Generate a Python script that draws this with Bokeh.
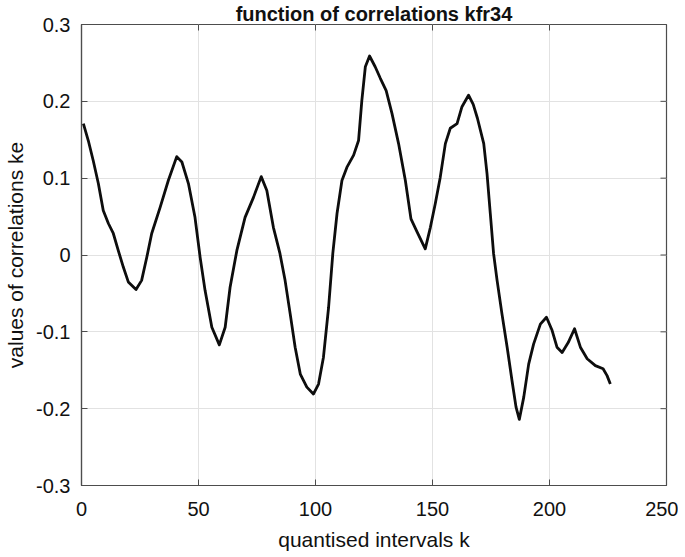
import math
from bokeh.plotting import figure
from bokeh.models import FixedTicker, Range1d
from bokeh.embed import file_html
from bokeh.resources import INLINE

# data
k_vals = [0.8, 2.9, 5.0, 7.2, 9.3, 11.5, 13.6, 15.7, 17.9, 20.0, 23.3, 25.7, 27.9, 30.0, 33.6, 37.1,
          40.7, 42.9, 45.7, 48.5, 50.7, 52.8, 55.7, 58.9, 61.4, 63.5, 66.4, 69.9, 73.5, 76.8, 79.2,
          82.0, 84.8, 87.0, 89.2, 91.3, 93.5, 96.3, 99.1, 101.3, 103.4, 105.6, 107.4, 109.2, 111.3,
          113.4, 116.3, 118.4, 119.8, 121.3, 123.1, 125.5, 127.7, 130.2, 132.7, 135.5, 138.4, 140.8,
          143.4, 146.9, 149.1, 151.2, 153.3, 155.5, 157.6, 160.5, 162.6, 165.4, 167.4, 169.2, 171.9,
          173.3, 174.7, 176.1, 177.6, 179.7, 181.9, 184.0, 185.7, 187.1, 189.0, 191.1, 193.2, 196.1,
          198.7, 201.1, 203.2, 205.4, 208.0, 210.7, 213.2, 216.1, 219.6, 222.9, 224.6, 226.0]
ke_vals = [0.171, 0.149, 0.123, 0.093, 0.058, 0.041, 0.028, 0.006, -0.016, -0.035, -0.045, -0.033,
           -0.003, 0.028, 0.062, 0.097, 0.128, 0.121, 0.093, 0.049, -0.003, -0.046, -0.094, -0.117,
           -0.094, -0.042, 0.006, 0.049, 0.075, 0.102, 0.084, 0.036, 0.002, -0.033, -0.077, -0.120,
           -0.155, -0.172, -0.181, -0.168, -0.133, -0.068, 0.002, 0.054, 0.097, 0.114, 0.130, 0.149,
           0.201, 0.245, 0.259, 0.245, 0.230, 0.214, 0.184, 0.145, 0.097, 0.047, 0.030, 0.008, 0.036,
           0.067, 0.101, 0.145, 0.165, 0.171, 0.193, 0.208, 0.196, 0.178, 0.145, 0.106, 0.054, 0.002,
           -0.033, -0.077, -0.120, -0.164, -0.198, -0.214, -0.185, -0.142, -0.116, -0.090, -0.081,
           -0.098, -0.120, -0.127, -0.114, -0.096, -0.120, -0.135, -0.144, -0.148, -0.157, -0.168]

x_ticks = [0, 50, 100, 150, 200, 250]
y_ticks = [-0.3, -0.2, -0.1, 0, 0.1, 0.2, 0.3]
y_tick_labels = ["-0.3", "-0.2", "-0.1", "0", "0.1", "0.2", "0.3"]

title_text = "function of correlations kfr34"
x_label = "quantised intervals k"
y_label = "values of correlations ke"

FONT = "Liberation Sans"
AX_COL = "#4d4d4d"
TXT_COL = "#111111"

p = figure(width=678, height=556, output_backend="svg", toolbar_location=None,
           x_range=Range1d(0, 250), y_range=Range1d(-0.3, 0.3),
           min_border_left=81, min_border_right=12, min_border_top=24, min_border_bottom=71,
           x_axis_label=x_label, y_axis_label=y_label, title=title_text)

p.title.align = "center"
p.title.text_font = FONT
p.title.text_font_size = "20px"
p.title.text_font_style = "bold"
p.title.text_color = TXT_COL
p.title.standoff = 0
p.title.offset = 0

p.line(k_vals, ke_vals, line_color="#0d0d0d", line_width=2.8, line_join="round")

overrides = {t: l for t, l in zip(y_ticks, y_tick_labels)}

for ax in p.xaxis:
    ax.ticker = FixedTicker(ticks=x_ticks)
for ax in p.yaxis:
    ax.ticker = FixedTicker(ticks=y_ticks)
    ax.major_label_overrides = overrides

for ax in p.xaxis + p.yaxis:
    ax.major_tick_in = 6
    ax.major_tick_out = 0
    ax.minor_tick_in = 0
    ax.minor_tick_out = 0
    ax.axis_line_color = AX_COL
    ax.axis_line_width = 1.2
    ax.major_tick_line_color = AX_COL
    ax.major_label_text_font = FONT
    ax.major_label_text_font_size = "20px"
    ax.major_label_text_color = TXT_COL
    ax.axis_label_text_font = FONT
    ax.axis_label_text_font_size = "21px"
    ax.axis_label_text_font_style = "normal"
    ax.axis_label_text_color = TXT_COL

p.xaxis.major_label_standoff = 16
p.xaxis.axis_label_standoff = 9
p.yaxis.major_label_standoff = 11
p.yaxis.axis_label_standoff = 6

# ticks on the top and right edges of the box
p.ray(x=x_ticks, y=[y_ticks[-1]] * len(x_ticks), length=6, length_units="screen",
      angle=-math.pi / 2, line_color=AX_COL, line_width=1)
p.ray(x=[x_ticks[-1]] * len(y_ticks), y=y_ticks, length=6, length_units="screen",
      angle=math.pi, line_color=AX_COL, line_width=1)

p.xgrid.ticker = FixedTicker(ticks=x_ticks)
p.ygrid.ticker = FixedTicker(ticks=y_ticks)
p.grid.grid_line_color = "#e2e2e2"
p.grid.grid_line_width = 1
p.outline_line_color = AX_COL
p.outline_line_width = 1.2

open("out.html", "w").write(file_html(p, INLINE))
